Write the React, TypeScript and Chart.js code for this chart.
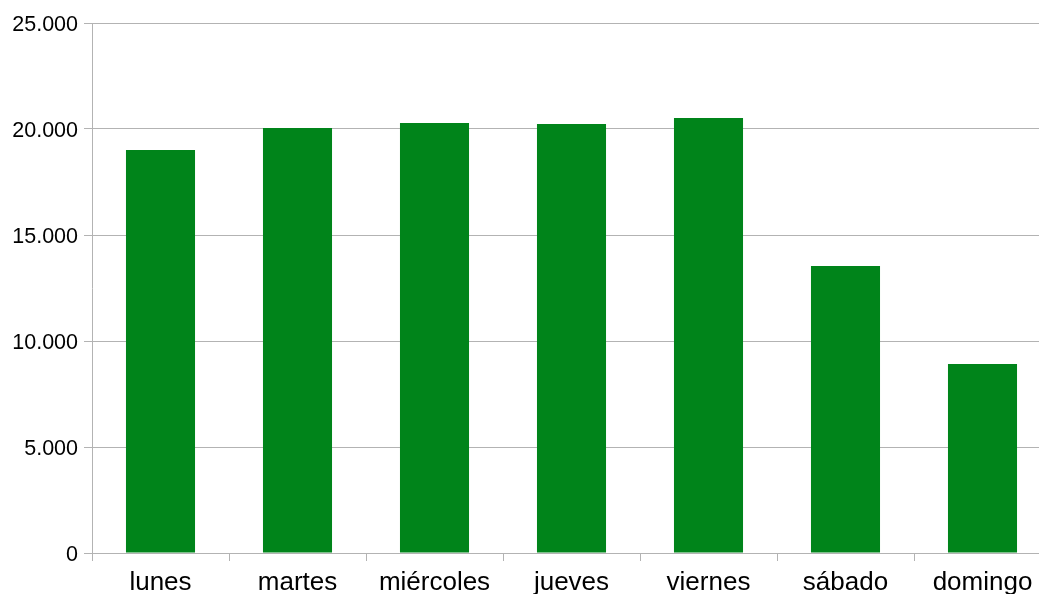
import React, { useEffect, useRef } from "react";
import { Chart, registerables } from "chart.js";

Chart.register(...registerables);

const categories = ["lunes", "martes", "miércoles", "jueves", "viernes", "sábado", "domingo"];
const values = [19010, 20050, 20280, 20240, 20520, 13540, 8920];
const yTicks = [0, 5000, 10000, 15000, 20000, 25000];

const fmt = (v: number) => {
  const s = String(Math.round(v));
  return s.replace(/\B(?=(\d{3})+(?!\d))/g, ".");
};

export default function App() {
  const ref = useRef<HTMLCanvasElement | null>(null);

  useEffect(() => {
    document.body.style.overflow = "hidden";
    const canvas = ref.current!;
    const chart = new Chart(canvas, {
      type: "bar",
      data: {
        labels: categories,
        datasets: [
          {
            data: values,
            backgroundColor: "#00841a",
            borderWidth: 0,
            categoryPercentage: 1,
            barPercentage: 0.504,
          },
        ],
      },
      options: {
        animation: false,
        responsive: false,
        devicePixelRatio: 1,
        layout: { padding: { top: 23, right: 0, bottom: 0, left: 0 } },
        plugins: { legend: { display: false }, tooltip: { enabled: false } },
        scales: {
          x: {
            grid: {
              offset: true,
              drawOnChartArea: false,
              drawTicks: true,
              tickLength: 8,
              color: "#b3b3b3",
            },
            border: { display: true, color: "#b3b3b3" },
            ticks: {
              color: "#000000",
              padding: 6,
              maxRotation: 0,
              autoSkip: false,
              font: { family: "'Liberation Sans', Arial, sans-serif", size: 26 },
            },
            afterFit: (scale: any) => {
              scale.height = 41;
            },
          },
          y: {
            min: 0,
            max: 25000,
            afterBuildTicks: (scale: any) => {
              scale.ticks = yTicks.map((v) => ({ value: v }));
            },
            grid: {
              color: "#b3b3b3",
              tickLength: 8,
              drawTicks: true,
            },
            border: { display: true, color: "#b3b3b3" },
            ticks: {
              color: "#000000",
              padding: 6,
              labelOffset: 2,
              callback: (v: any) => fmt(Number(v)),
              font: { family: "'Liberation Sans', Arial, sans-serif", size: 21.5 },
            },
            afterFit: (scale: any) => {
              scale.width = 92;
            },
          },
        },
      },
    });
    return () => chart.destroy();
  }, []);

  return (
    <div style={{ position: "absolute", left: 0, top: 0, width: 1051, height: 594, background: "#fff" }}>
      <canvas ref={ref} width={1051} height={594} style={{ display: "block" }} />
    </div>
  );
}
